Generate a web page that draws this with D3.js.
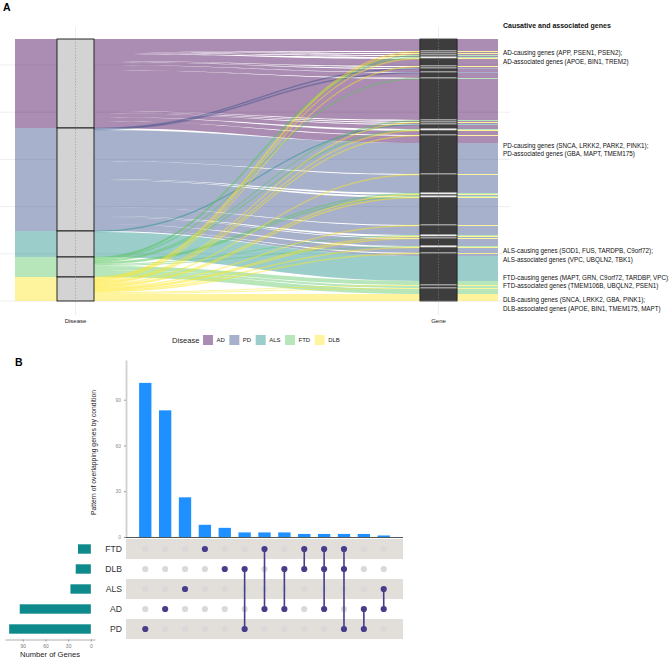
<!DOCTYPE html>
<html>
<head>
<meta charset="utf-8">
<script src="https://cdn.jsdelivr.net/npm/d3@7"></script>
<style>
body{margin:0;background:#fff;}
svg{display:block;font-family:"Liberation Sans",Arial,sans-serif;}
</style>
</head>
<body>
<svg id="chart" width="669" height="661"></svg>
<script>
/* panel A : alluvial disease -> gene, panel B : upset of the five conditions */

var diseases = ["AD", "PD", "ALS", "FTD", "DLB"];
var diseaseColors = ["#440154", "#3B528B", "#21908C", "#5DC863", "#FDE725"];

// gene axis of the alluvial, top to bottom : [conditions of the gene, number of genes]
var geneGroups = [
    ["AD",11],["AD+DLB",1],["AD+DLB",1],["AD+FTD",1],["AD+FTD+DLB",1],["AD",6],
    ["AD+DLB",1],["AD+PD",1],["AD",2],["AD+PD",1],["AD",4],["AD+FTD",1],["AD",40],
    ["AD+FTD",1],["AD+DLB",1],["AD+ALS",1],["AD",3],["AD+FTD+DLB",1],["AD",3],
    ["AD+DLB",1],["AD",7],
    ["PD",30],["PD+DLB",1],["PD",17],["PD+FTD+DLB",1],["PD+FTD+DLB",1],["PD",26],
    ["PD+DLB",1],["PD",8],["PD+FTD+DLB",1],["PD+DLB",1],["PD",6],["PD+FTD+DLB",1],
    ["PD",4],["PD+DLB",1],["PD",2],
    ["ALS",25],
    ["FTD",3],["FTD+DLB",1],["FTD",1],["FTD+DLB",1],["FTD",5],
    ["DLB",7]
];

var geneNotesTitle = "Causative and associated genes";
var geneNotes = [
    ["AD-causing genes  (APP, PSEN1, PSEN2);", "AD-associated genes (APOE, BIN1, TREM2)"],
    ["PD-causing genes (SNCA, LRKK2, PARK2, PINK1);", "PD-associated genes (GBA, MAPT, TMEM175)"],
    ["ALS-causing genes (SOD1, FUS, TARDPB, C9orf72);", "ALS-associated genes (VPC, UBQLN2, TBK1)"],
    ["FTD-causing genes (MAPT, GRN, C9orf72,  TARDBP, VPC);", "FTD-associated genes (TMEM106B, UBQLN2, PSEN1)"],
    ["DLB-causing genes (SNCA, LRKK2, GBA, PINK1);", "DLB-associated genes (APOE, BIN1, TMEM175, MAPT)"]
];

// upset
var intersections = [["PD"],["AD"],["ALS"],["FTD"],["DLB"],["DLB","PD"],["FTD","AD"],
                     ["DLB","AD"],["FTD","DLB"],["FTD","DLB","AD"],["FTD","DLB","PD"],
                     ["AD","PD"],["ALS","AD"]];
var intersectionSizes = [101, 83, 26, 8, 6, 3, 3, 3, 2, 2, 2, 2, 1];
var setNames = ["FTD", "DLB", "ALS", "AD", "PD"];
var setSizes = [17, 20, 27, 94, 108];
var countTicks = [0, 30, 60, 90];

var svg = d3.select("#chart");
var color = d3.scaleOrdinal().domain(diseases).range(diseaseColors);
var alpha = 0.45;

/* ---------------- A ---------------- */
svg.append("text").attr("x",3).attr("y",11).attr("font-size",10.5)
    .attr("font-weight","bold").text("A");

var genes = [];
geneGroups.forEach(function(g){
    for (var i = 0; i < g[1]; i++) genes.push(g[0].split("+"));
});
var total = d3.sum(genes, function(g){ return g.length; });
var yA = d3.scaleLinear().domain([0,total]).range([39,301]);
var xA = d3.scalePoint().domain(["Disease","Gene"]).range([75.5,438.5]);
var half = 18.5;
var xL = xA("Disease") + half, xR = xA("Gene") - half;

// disease strata and lodes
var strata = [], start = 0, cursor = {};
diseases.forEach(function(d){
    var n = genes.filter(function(g){ return g.indexOf(d) >= 0; }).length;
    strata.push({d:d, y0:start, y1:start+n});
    cursor[d] = start;
    start += n;
});
var lodes = [], geneStrata = [], gOff = 0;
genes.forEach(function(g){
    var ds = diseases.filter(function(d){ return g.indexOf(d) >= 0; });
    geneStrata.push({y0:gOff, y1:gOff+ds.length});
    ds.forEach(function(d){
	lodes.push({d:d, l0:cursor[d], l1:cursor[d]+1, r0:gOff, r1:gOff+1});
	cursor[d]++;
	gOff++;
    });
});
lodes.sort(function(a,b){
    return diseases.indexOf(a.d) - diseases.indexOf(b.d) || a.l0 - b.l0;
});
// join lodes that run side by side on both axes, so one ribbon has no seams
var flows = [];
lodes.forEach(function(p){
    var last = flows[flows.length-1];
    if (last && last.d == p.d && last.l1 == p.l0 && last.r1 == p.r0) {
	last.l1 = p.l1; last.r1 = p.r1;
    } else {
	flows.push({d:p.d, l0:p.l0, l1:p.l1, r0:p.r0, r1:p.r1});
    }
});

// grid
var grid = svg.append("g").attr("stroke","#e6e6e6").attr("stroke-width",0.7);
d3.range(0,6).forEach(function(i){
    var y = 301 - i*47.2;
    grid.append("line").attr("x1",0).attr("x2",510).attr("y1",y).attr("y2",y);
});
xA.domain().forEach(function(a){
    grid.append("line").attr("x1",xA(a)).attr("x2",xA(a)).attr("y1",27).attr("y2",315);
});

// flows
var flowPath = function(p){
    var w = (xR - xL)*0.45,
	a0 = yA(p.l0), a1 = yA(p.l1), b0 = yA(p.r0), b1 = yA(p.r1);
    return "M" + xL + "," + a0 +
	"C" + (xL+w) + "," + a0 + " " + (xR-w) + "," + b0 + " " + xR + "," + b0 +
	"L" + xR + "," + b1 +
	"C" + (xR-w) + "," + b1 + " " + (xL+w) + "," + a1 + " " + xL + "," + a1 + "Z";
};
// a thin ribbon that climbs far across the panel reads as a line in the original
var crossing = function(p){
    return p.l1 - p.l0 == 1 && Math.abs(yA(p.l0) - yA(p.r0)) > 30;
};
svg.append("g").selectAll("rect").data(strata).enter().append("rect")
    .attr("x",15).attr("width",xA("Disease")-half-15)
    .attr("y",function(s){ return yA(s.y0); })
    .attr("height",function(s){ return yA(s.y1)-yA(s.y0); })
    .attr("fill",function(s){ return color(s.d); }).attr("fill-opacity",alpha);
svg.append("g").selectAll("rect").data(flows).enter().append("rect")
    .attr("x",xA("Gene")+half).attr("width",498-xA("Gene")-half)
    .attr("y",function(p){ return yA(p.r0); })
    .attr("height",function(p){ return yA(p.r1)-yA(p.r0); })
    .attr("fill",function(p){ return color(p.d); }).attr("fill-opacity",alpha);
svg.append("g").selectAll("path").data(flows).enter().append("path")
    .attr("d",flowPath)
    .attr("fill",function(p){ return color(p.d); }).attr("fill-opacity",alpha)
    .attr("stroke",function(p){ return crossing(p) ? color(p.d) : "none"; })
    .attr("stroke-opacity",0.4).attr("stroke-width",0.45);

// strata boxes
svg.append("g").selectAll("rect").data(strata).enter().append("rect")
    .attr("x",xA("Disease")-half).attr("width",2*half)
    .attr("y",function(s){ return yA(s.y0); })
    .attr("height",function(s){ return yA(s.y1)-yA(s.y0); })
    .attr("fill","#d3d3d3").attr("stroke","#151515").attr("stroke-width",0.9);
svg.append("g").selectAll("rect").data(geneStrata).enter().append("rect")
    .attr("x",xA("Gene")-half).attr("width",2*half)
    .attr("y",function(s){ return yA(s.y0); })
    .attr("height",function(s){ return yA(s.y1)-yA(s.y0); })
    .attr("fill","#ececec").attr("stroke","#262626").attr("stroke-width",0.8);
xA.domain().forEach(function(a){
    svg.append("line").attr("x1",xA(a)).attr("x2",xA(a)).attr("y1",yA(0)).attr("y2",yA(total))
	.attr("stroke","#8a8a8a").attr("stroke-width",0.5).attr("stroke-dasharray","1.5,1.5");
    svg.append("text").attr("x",xA(a)).attr("y",322.5).attr("text-anchor","middle")
	.attr("font-size",6).attr("fill","#222").text(a);
});

// notes on the right
svg.append("text").attr("x",503).attr("y",27.5).attr("font-size",7)
    .attr("font-weight","bold").attr("fill","#111").text(geneNotesTitle);
var noteY = [55, 147.5, 253, 279.5, 302];
geneNotes.forEach(function(n,i){
    n.forEach(function(line,j){
	svg.append("text").attr("x",503).attr("y",noteY[i]+j*8.6)
	    .attr("font-size",6.3).attr("fill","#111").text(line);
    });
});

// legend
svg.append("text").attr("x",172).attr("y",342.8).attr("font-size",7.6)
    .attr("fill","#222").text("Disease");
var lx = 203;
diseases.forEach(function(d){
    svg.append("rect").attr("x",lx).attr("y",335).attr("width",10).attr("height",10)
	.attr("fill",color(d)).attr("fill-opacity",alpha);
    var t = svg.append("text").attr("x",lx+13.5).attr("y",342.2).attr("font-size",6)
	.attr("fill","#222").text(d);
    lx = lx + 13.5 + t.node().getComputedTextLength() + 4.5;
});

/* ---------------- B ---------------- */
svg.append("text").attr("x",15).attr("y",366).attr("font-size",10.5)
    .attr("font-weight","bold").text("B");

var xB = d3.scaleBand().domain(d3.range(intersections.length)).range([126,403])
    .paddingInner(0.38).paddingOuter(0.66);
var yB = d3.scaleLinear().domain([0,116]).range([537,360]);
var rowB = d3.scaleBand().domain(setNames).range([539,639]);

var yAxis = svg.append("g").attr("transform","translate(126,0)")
    .call(d3.axisLeft(yB).tickValues(countTicks).tickSize(2).tickSizeOuter(0));
yAxis.select(".domain").attr("stroke","#cfcfcf").attr("stroke-width",1.8);
yAxis.selectAll(".tick line").attr("stroke","#999");
yAxis.selectAll(".tick text").attr("font-size",5).attr("fill","#8c8c8c")
    .attr("font-family","Liberation Sans, Arial, sans-serif");

svg.append("g").selectAll("rect").data(intersectionSizes).enter().append("rect")
    .attr("x",function(v,i){ return xB(i); }).attr("width",xB.bandwidth())
    .attr("y",function(v){ return yB(v); })
    .attr("height",function(v){ return yB(0)-yB(v); })
    .attr("fill","#1E90FF");
svg.append("line").attr("x1",xB.range()[0]).attr("x2",xB.range()[1])
    .attr("y1",yB(0)+0.5).attr("y2",yB(0)+0.5).attr("stroke","#555").attr("stroke-width",1);

svg.append("text").attr("transform","translate(95.5,452.5) rotate(-90)")
    .attr("text-anchor","middle").attr("font-size",6.8).attr("fill","#222")
    .text("Pattern of overlapping genes by condition");

// matrix
svg.append("g").selectAll("rect").data(setNames.filter(function(s,i){ return i % 2 == 0; }))
    .enter().append("rect")
    .attr("x",xB.range()[0]).attr("width",xB.range()[1]-xB.range()[0])
    .attr("y",function(s){ return rowB(s); }).attr("height",rowB.bandwidth())
    .attr("fill","#e2dfdb");
var cx = function(i){ return xB(i)+xB.bandwidth()/2; };
var cy = function(s){ return rowB(s)+rowB.bandwidth()/2; };
intersections.forEach(function(sets,i){
    setNames.forEach(function(s){
	svg.append("circle").attr("cx",cx(i)).attr("cy",cy(s)).attr("r",3.1)
	    .attr("fill", sets.indexOf(s) >= 0 ? "#483D8B" : "#d9d9d9");
    });
    if (sets.length > 1) {
	var ys = sets.map(cy);
	svg.append("line").attr("x1",cx(i)).attr("x2",cx(i))
	    .attr("y1",d3.min(ys)).attr("y2",d3.max(ys))
	    .attr("stroke","#483D8B").attr("stroke-width",1.6);
    }
});
svg.append("g").selectAll("text").data(setNames).enter().append("text")
    .attr("x",122).attr("y",function(s){ return cy(s)+3.1; })
    .attr("text-anchor","end").attr("font-size",8.6).attr("fill","#333")
    .text(function(s){ return s; });

// set sizes
var xS = d3.scaleLinear().domain([-5.5,113.5]).range([95,5]);
svg.append("g").selectAll("rect").data(setSizes).enter().append("rect")
    .attr("x",function(v){ return xS(v); })
    .attr("width",function(v){ return xS(0)-xS(v); })
    .attr("y",function(v,i){ return cy(setNames[i])-4.7; }).attr("height",9.4)
    .attr("fill","#0E8A8C");
var sAxis = svg.append("g").attr("transform","translate(0,639.5)")
    .call(d3.axisBottom(xS).tickValues(countTicks).tickSize(2).tickSizeOuter(0));
sAxis.select(".domain").attr("stroke","#999").attr("stroke-width",0.8);
sAxis.selectAll(".tick line").attr("stroke","#999");
sAxis.selectAll(".tick text").attr("font-size",5).attr("fill","#777").attr("dy","0.6em")
    .attr("font-family","Liberation Sans, Arial, sans-serif");
svg.append("text").attr("x",50).attr("y",657).attr("text-anchor","middle")
    .attr("font-size",7.6).attr("fill","#222").text("Number of Genes");
</script>
</body>
</html>
